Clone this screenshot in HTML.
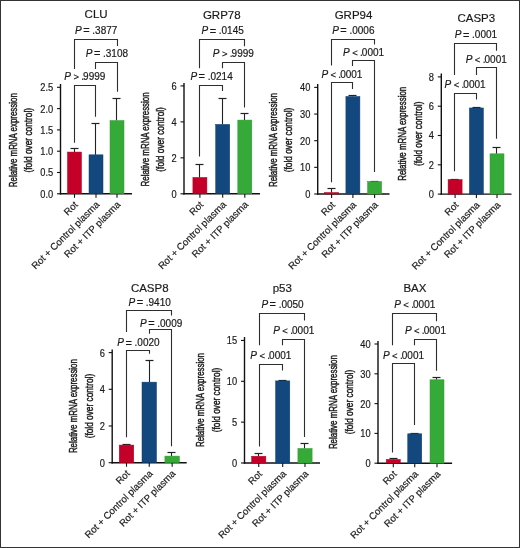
<!DOCTYPE html>
<html><head><meta charset="utf-8"><style>
html,body{margin:0;padding:0;background:#fff;}
body{width:520px;height:548px;overflow:hidden;}
svg{display:block;will-change:transform;}
text{font-family:"Liberation Sans", sans-serif;fill:#1a1a1a;stroke:#1a1a1a;stroke-width:0.18px;}
.yl{stroke:#1a1a1a;stroke-width:0.45px;}
</style></head><body>
<svg width="520" height="548" viewBox="0 0 520 548">
<rect x="0.5" y="0.5" width="519" height="547" fill="#fff" stroke="#333" stroke-width="1"/>
<text x="0" y="0" font-size="11.5" text-anchor="middle" transform="translate(96.1 18.1)">CLU</text>
<line x1="60.5" y1="84" x2="60.5" y2="194.5" stroke="#111" stroke-width="1.4"/>
<line x1="57.0" y1="193.8" x2="60.5" y2="193.8" stroke="#111" stroke-width="1.1"/>
<text x="0" y="0" font-size="10" text-anchor="end" transform="translate(53.20 197.70) scale(0.93 1)">0.0</text>
<line x1="57.0" y1="172.5" x2="60.5" y2="172.5" stroke="#111" stroke-width="1.1"/>
<text x="0" y="0" font-size="10" text-anchor="end" transform="translate(53.20 176.40) scale(0.93 1)">0.5</text>
<line x1="57.0" y1="151.2" x2="60.5" y2="151.2" stroke="#111" stroke-width="1.1"/>
<text x="0" y="0" font-size="10" text-anchor="end" transform="translate(53.20 155.10) scale(0.93 1)">1.0</text>
<line x1="57.0" y1="129.9" x2="60.5" y2="129.9" stroke="#111" stroke-width="1.1"/>
<text x="0" y="0" font-size="10" text-anchor="end" transform="translate(53.20 133.80) scale(0.93 1)">1.5</text>
<line x1="57.0" y1="108.6" x2="60.5" y2="108.6" stroke="#111" stroke-width="1.1"/>
<text x="0" y="0" font-size="10" text-anchor="end" transform="translate(53.20 112.50) scale(0.93 1)">2.0</text>
<line x1="57.0" y1="87.3" x2="60.5" y2="87.3" stroke="#111" stroke-width="1.1"/>
<text x="0" y="0" font-size="10" text-anchor="end" transform="translate(53.20 91.20) scale(0.93 1)">2.5</text>
<line x1="59.8" y1="193.8" x2="132" y2="193.8" stroke="#111" stroke-width="1.4"/>
<line x1="74.5" y1="193.8" x2="74.5" y2="197.8" stroke="#111" stroke-width="1.1"/>
<line x1="96" y1="193.8" x2="96" y2="197.8" stroke="#111" stroke-width="1.1"/>
<line x1="117" y1="193.8" x2="117" y2="197.8" stroke="#111" stroke-width="1.1"/>
<line x1="74.5" y1="149.07" x2="74.5" y2="152.05200000000002" stroke="#222" stroke-width="1.1"/>
<line x1="70.5" y1="148.5" x2="78.5" y2="148.5" stroke="#222" stroke-width="1.2"/>
<rect x="67.5" y="152.05" width="14" height="41.75" fill="#c50028" stroke="#b00022" stroke-width="0.5"/>
<line x1="95.5" y1="123.51000000000002" x2="95.5" y2="154.821" stroke="#222" stroke-width="1.1"/>
<line x1="91.5" y1="123.5" x2="99.5" y2="123.5" stroke="#222" stroke-width="1.2"/>
<rect x="89.0" y="154.82" width="14" height="38.98" fill="#13487f" stroke="#0f3d6c" stroke-width="0.5"/>
<line x1="116.5" y1="98.376" x2="116.5" y2="120.528" stroke="#222" stroke-width="1.1"/>
<line x1="112.5" y1="98.5" x2="120.5" y2="98.5" stroke="#222" stroke-width="1.2"/>
<rect x="110.0" y="120.53" width="14" height="73.27" fill="#36aa38" stroke="#2f9a32" stroke-width="0.5"/>
<polyline points="74.5,69 74.5,39.5 117.5,39.5 117.5,45.9" fill="none" stroke="#2e2e2e" stroke-width="1.1"/>
<text y="33.9" font-size="10"><tspan x="75.09" font-style="italic">P</tspan><tspan x="83.26" y="34.4" font-size="11">=</tspan><tspan x="92.34" y="33.9">.</tspan><tspan x="95.12">3877</tspan></text>
<polyline points="95.5,69 95.5,62.5 117.5,62.5 117.5,91.7" fill="none" stroke="#2e2e2e" stroke-width="1.1"/>
<text y="56.7" font-size="10"><tspan x="85.74" font-style="italic">P</tspan><tspan x="93.91" y="57.2" font-size="11">=</tspan><tspan x="102.99" y="56.7">.</tspan><tspan x="105.77">3108</tspan></text>
<polyline points="74.5,142.8 74.5,85.5 95.5,85.5 95.5,116.8" fill="none" stroke="#2e2e2e" stroke-width="1.1"/>
<text y="80.0" font-size="10"><tspan x="64.34" font-style="italic">P</tspan><tspan x="73.38" y="80.0" font-size="9.5">&gt;</tspan><tspan x="81.24" y="80.0">.</tspan><tspan x="83.12">9999</tspan></text>
<text x="78.5" y="205.3" font-size="9.7" text-anchor="end" transform="rotate(-45 78.5 205.3)">Rot</text>
<text x="100.0" y="205.3" font-size="9.7" text-anchor="end" transform="rotate(-45 100.0 205.3)">Rot + Control plasma</text>
<text x="121.0" y="205.3" font-size="9.7" text-anchor="end" transform="rotate(-45 121.0 205.3)">Rot + ITP plasma</text>
<text x="17.1" y="140.20000000000002" font-size="10.8" text-anchor="middle" class="yl" transform="rotate(-90 17.1 140.20000000000002)" textLength="94" lengthAdjust="spacingAndGlyphs" dy="0">Relative mRNA expression</text>
<text x="31.9" y="140.20000000000002" font-size="10.8" text-anchor="middle" class="yl" transform="rotate(-90 31.9 140.20000000000002)" textLength="64.5" lengthAdjust="spacingAndGlyphs">(fold over control)</text>
<text x="0" y="0" font-size="11.5" text-anchor="middle" transform="translate(221.75 18.5)">GRP78</text>
<line x1="184" y1="83" x2="184" y2="194.5" stroke="#111" stroke-width="1.4"/>
<line x1="180.5" y1="193.8" x2="184" y2="193.8" stroke="#111" stroke-width="1.1"/>
<text x="0" y="0" font-size="10" text-anchor="end" transform="translate(176.70 197.70) scale(0.93 1)">0</text>
<line x1="180.5" y1="157.84" x2="184" y2="157.84" stroke="#111" stroke-width="1.1"/>
<text x="0" y="0" font-size="10" text-anchor="end" transform="translate(176.70 161.74) scale(0.93 1)">2</text>
<line x1="180.5" y1="121.88" x2="184" y2="121.88" stroke="#111" stroke-width="1.1"/>
<text x="0" y="0" font-size="10" text-anchor="end" transform="translate(176.70 125.78) scale(0.93 1)">4</text>
<line x1="180.5" y1="85.92" x2="184" y2="85.92" stroke="#111" stroke-width="1.1"/>
<text x="0" y="0" font-size="10" text-anchor="end" transform="translate(176.70 89.82) scale(0.93 1)">6</text>
<line x1="183.3" y1="193.8" x2="260" y2="193.8" stroke="#111" stroke-width="1.4"/>
<line x1="199.9" y1="193.8" x2="199.9" y2="197.8" stroke="#111" stroke-width="1.1"/>
<line x1="222.7" y1="193.8" x2="222.7" y2="197.8" stroke="#111" stroke-width="1.1"/>
<line x1="244.8" y1="193.8" x2="244.8" y2="197.8" stroke="#111" stroke-width="1.1"/>
<line x1="199.5" y1="164.3128" x2="199.5" y2="177.4382" stroke="#222" stroke-width="1.1"/>
<line x1="195.5" y1="164.5" x2="203.5" y2="164.5" stroke="#222" stroke-width="1.2"/>
<rect x="192.9" y="177.44" width="14" height="16.36" fill="#c50028" stroke="#b00022" stroke-width="0.5"/>
<line x1="222.5" y1="98.50600000000001" x2="222.5" y2="124.39720000000001" stroke="#222" stroke-width="1.1"/>
<line x1="218.5" y1="98.5" x2="226.5" y2="98.5" stroke="#222" stroke-width="1.2"/>
<rect x="215.7" y="124.40" width="14" height="69.40" fill="#13487f" stroke="#0f3d6c" stroke-width="0.5"/>
<line x1="244.5" y1="113.9688" x2="244.5" y2="120.08200000000002" stroke="#222" stroke-width="1.1"/>
<line x1="240.5" y1="113.5" x2="248.5" y2="113.5" stroke="#222" stroke-width="1.2"/>
<rect x="237.8" y="120.08" width="14" height="73.72" fill="#36aa38" stroke="#2f9a32" stroke-width="0.5"/>
<polyline points="199.5,68.3 199.5,39.5 244.5,39.5 244.5,46.2" fill="none" stroke="#2e2e2e" stroke-width="1.1"/>
<text y="34.2" font-size="10"><tspan x="201.49" font-style="italic">P</tspan><tspan x="209.66" y="34.7" font-size="11">=</tspan><tspan x="218.74" y="34.2">.</tspan><tspan x="221.52">0145</tspan></text>
<polyline points="222.5,68.3 222.5,62.5 244.5,62.5 244.5,107.4" fill="none" stroke="#2e2e2e" stroke-width="1.1"/>
<text y="57.2" font-size="10"><tspan x="212.84" font-style="italic">P</tspan><tspan x="221.88" y="57.2" font-size="9.5">&gt;</tspan><tspan x="229.74" y="57.2">.</tspan><tspan x="231.62">9999</tspan></text>
<polyline points="199.5,156.6 199.5,85.5 222.5,85.5 222.5,91" fill="none" stroke="#2e2e2e" stroke-width="1.1"/>
<text y="79.9" font-size="10"><tspan x="190.44" font-style="italic">P</tspan><tspan x="198.61" y="80.4" font-size="11">=</tspan><tspan x="207.69" y="79.9">.</tspan><tspan x="210.47">0214</tspan></text>
<text x="203.9" y="205.3" font-size="9.7" text-anchor="end" transform="rotate(-45 203.9 205.3)">Rot</text>
<text x="226.7" y="205.3" font-size="9.7" text-anchor="end" transform="rotate(-45 226.7 205.3)">Rot + Control plasma</text>
<text x="248.8" y="205.3" font-size="9.7" text-anchor="end" transform="rotate(-45 248.8 205.3)">Rot + ITP plasma</text>
<text x="149.10000000000002" y="139.4" font-size="10.8" text-anchor="middle" class="yl" transform="rotate(-90 149.10000000000002 139.4)" textLength="94" lengthAdjust="spacingAndGlyphs" dy="0">Relative mRNA expression</text>
<text x="164.5" y="139.4" font-size="10.8" text-anchor="middle" class="yl" transform="rotate(-90 164.5 139.4)" textLength="64.5" lengthAdjust="spacingAndGlyphs">(fold over control)</text>
<text x="0" y="0" font-size="11.5" text-anchor="middle" transform="translate(353.5 18.5)">GRP94</text>
<line x1="317.7" y1="84" x2="317.7" y2="194.7" stroke="#111" stroke-width="1.4"/>
<line x1="314.2" y1="194.0" x2="317.7" y2="194.0" stroke="#111" stroke-width="1.1"/>
<text x="0" y="0" font-size="10" text-anchor="end" transform="translate(310.40 197.90) scale(0.93 1)">0</text>
<line x1="314.2" y1="167.35" x2="317.7" y2="167.35" stroke="#111" stroke-width="1.1"/>
<text x="0" y="0" font-size="10" text-anchor="end" transform="translate(310.40 171.25) scale(0.93 1)">10</text>
<line x1="314.2" y1="140.7" x2="317.7" y2="140.7" stroke="#111" stroke-width="1.1"/>
<text x="0" y="0" font-size="10" text-anchor="end" transform="translate(310.40 144.60) scale(0.93 1)">20</text>
<line x1="314.2" y1="114.05" x2="317.7" y2="114.05" stroke="#111" stroke-width="1.1"/>
<text x="0" y="0" font-size="10" text-anchor="end" transform="translate(310.40 117.95) scale(0.93 1)">30</text>
<line x1="314.2" y1="87.4" x2="317.7" y2="87.4" stroke="#111" stroke-width="1.1"/>
<text x="0" y="0" font-size="10" text-anchor="end" transform="translate(310.40 91.30) scale(0.93 1)">40</text>
<line x1="317.0" y1="194.0" x2="389.5" y2="194.0" stroke="#111" stroke-width="1.4"/>
<line x1="331.6" y1="194.0" x2="331.6" y2="198.0" stroke="#111" stroke-width="1.1"/>
<line x1="352.9" y1="194.0" x2="352.9" y2="198.0" stroke="#111" stroke-width="1.1"/>
<line x1="374.6" y1="194.0" x2="374.6" y2="198.0" stroke="#111" stroke-width="1.1"/>
<line x1="331.5" y1="188.67" x2="331.5" y2="192.53425" stroke="#222" stroke-width="1.1"/>
<line x1="327.5" y1="188.5" x2="335.5" y2="188.5" stroke="#222" stroke-width="1.2"/>
<rect x="324.6" y="192.53" width="14" height="1.47" fill="#c50028" stroke="#b00022" stroke-width="0.5"/>
<line x1="352.5" y1="96.19449999999999" x2="352.5" y2="96.461" stroke="#222" stroke-width="1.1"/>
<line x1="348.5" y1="95.5" x2="356.5" y2="95.5" stroke="#222" stroke-width="1.2"/>
<rect x="345.9" y="96.46" width="14" height="97.54" fill="#13487f" stroke="#0f3d6c" stroke-width="0.5"/>
<line x1="374.5" y1="181.208" x2="374.5" y2="181.4745" stroke="#222" stroke-width="1.1"/>
<line x1="370.5" y1="181.5" x2="378.5" y2="181.5" stroke="#222" stroke-width="1.2"/>
<rect x="367.6" y="181.47" width="14" height="12.53" fill="#36aa38" stroke="#2f9a32" stroke-width="0.5"/>
<polyline points="331.5,65.6 331.5,39.5 374.5,39.5 374.5,44.4" fill="none" stroke="#2e2e2e" stroke-width="1.1"/>
<text y="33.9" font-size="10"><tspan x="332.19" font-style="italic">P</tspan><tspan x="340.36" y="34.4" font-size="11">=</tspan><tspan x="349.44" y="33.9">.</tspan><tspan x="352.22">0006</tspan></text>
<polyline points="352.5,66 352.5,60.5 374.5,60.5 374.5,171.9" fill="none" stroke="#2e2e2e" stroke-width="1.1"/>
<text y="55.9" font-size="10"><tspan x="343.09" font-style="italic">P</tspan><tspan x="352.13" y="55.9" font-size="9.5">&lt;</tspan><tspan x="359.99" y="55.9">.</tspan><tspan x="361.87">0001</tspan></text>
<polyline points="331.5,182.3 331.5,82.5 352.5,82.5 352.5,88.9" fill="none" stroke="#2e2e2e" stroke-width="1.1"/>
<text y="77.7" font-size="10"><tspan x="321.39" font-style="italic">P</tspan><tspan x="330.43" y="77.7" font-size="9.5">&lt;</tspan><tspan x="338.29" y="77.7">.</tspan><tspan x="340.17">0001</tspan></text>
<text x="335.6" y="205.5" font-size="9.7" text-anchor="end" transform="rotate(-45 335.6 205.5)">Rot</text>
<text x="356.9" y="205.5" font-size="9.7" text-anchor="end" transform="rotate(-45 356.9 205.5)">Rot + Control plasma</text>
<text x="378.6" y="205.5" font-size="9.7" text-anchor="end" transform="rotate(-45 378.6 205.5)">Rot + ITP plasma</text>
<text x="276.7" y="140.0" font-size="10.8" text-anchor="middle" class="yl" transform="rotate(-90 276.7 140.0)" textLength="94" lengthAdjust="spacingAndGlyphs" dy="0">Relative mRNA expression</text>
<text x="291.9" y="140.0" font-size="10.8" text-anchor="middle" class="yl" transform="rotate(-90 291.9 140.0)" textLength="64.5" lengthAdjust="spacingAndGlyphs">(fold over control)</text>
<text x="0" y="0" font-size="11.5" text-anchor="middle" transform="translate(476.3 22.1)">CASP3</text>
<line x1="441.3" y1="73.5" x2="441.3" y2="194.79999999999998" stroke="#111" stroke-width="1.4"/>
<line x1="437.8" y1="194.1" x2="441.3" y2="194.1" stroke="#111" stroke-width="1.1"/>
<text x="0" y="0" font-size="10" text-anchor="end" transform="translate(434.00 198.00) scale(0.93 1)">0</text>
<line x1="437.8" y1="164.8" x2="441.3" y2="164.8" stroke="#111" stroke-width="1.1"/>
<text x="0" y="0" font-size="10" text-anchor="end" transform="translate(434.00 168.70) scale(0.93 1)">2</text>
<line x1="437.8" y1="135.5" x2="441.3" y2="135.5" stroke="#111" stroke-width="1.1"/>
<text x="0" y="0" font-size="10" text-anchor="end" transform="translate(434.00 139.40) scale(0.93 1)">4</text>
<line x1="437.8" y1="106.2" x2="441.3" y2="106.2" stroke="#111" stroke-width="1.1"/>
<text x="0" y="0" font-size="10" text-anchor="end" transform="translate(434.00 110.10) scale(0.93 1)">6</text>
<line x1="437.8" y1="76.9" x2="441.3" y2="76.9" stroke="#111" stroke-width="1.1"/>
<text x="0" y="0" font-size="10" text-anchor="end" transform="translate(434.00 80.80) scale(0.93 1)">8</text>
<line x1="440.6" y1="194.1" x2="511.5" y2="194.1" stroke="#111" stroke-width="1.4"/>
<line x1="455.1" y1="194.1" x2="455.1" y2="198.1" stroke="#111" stroke-width="1.1"/>
<line x1="476.4" y1="194.1" x2="476.4" y2="198.1" stroke="#111" stroke-width="1.1"/>
<line x1="497" y1="194.1" x2="497" y2="198.1" stroke="#111" stroke-width="1.1"/>
<line x1="454.5" y1="179.45" x2="454.5" y2="179.5965" stroke="#222" stroke-width="1.1"/>
<line x1="450.5" y1="179.5" x2="458.5" y2="179.5" stroke="#222" stroke-width="1.2"/>
<rect x="448.1" y="179.60" width="14" height="14.50" fill="#c50028" stroke="#b00022" stroke-width="0.5"/>
<line x1="476.5" y1="107.66499999999999" x2="476.5" y2="107.958" stroke="#222" stroke-width="1.1"/>
<line x1="472.5" y1="107.5" x2="480.5" y2="107.5" stroke="#222" stroke-width="1.2"/>
<rect x="469.4" y="107.96" width="14" height="86.14" fill="#13487f" stroke="#0f3d6c" stroke-width="0.5"/>
<line x1="496.5" y1="147.3665" x2="496.5" y2="153.8125" stroke="#222" stroke-width="1.1"/>
<line x1="492.5" y1="147.5" x2="500.5" y2="147.5" stroke="#222" stroke-width="1.2"/>
<rect x="490.0" y="153.81" width="14" height="40.29" fill="#36aa38" stroke="#2f9a32" stroke-width="0.5"/>
<polyline points="454.5,75.1 454.5,43.5 496.5,43.5 496.5,50.8" fill="none" stroke="#2e2e2e" stroke-width="1.1"/>
<text y="38.2" font-size="10"><tspan x="454.84" font-style="italic">P</tspan><tspan x="463.01" y="38.7" font-size="11">=</tspan><tspan x="472.09" y="38.2">.</tspan><tspan x="474.87">0001</tspan></text>
<polyline points="476.5,75.1 476.5,67.5 496.5,67.5 496.5,138.8" fill="none" stroke="#2e2e2e" stroke-width="1.1"/>
<text y="62.9" font-size="10"><tspan x="465.74" font-style="italic">P</tspan><tspan x="474.78" y="62.9" font-size="9.5">&lt;</tspan><tspan x="482.64" y="62.9">.</tspan><tspan x="484.52">0001</tspan></text>
<polyline points="454.5,171.3 454.5,93.5 476.5,93.5 476.5,99.4" fill="none" stroke="#2e2e2e" stroke-width="1.1"/>
<text y="88.3" font-size="10"><tspan x="444.59" font-style="italic">P</tspan><tspan x="453.63" y="88.3" font-size="9.5">&lt;</tspan><tspan x="461.49" y="88.3">.</tspan><tspan x="463.37">0001</tspan></text>
<text x="459.1" y="205.6" font-size="9.7" text-anchor="end" transform="rotate(-45 459.1 205.6)">Rot</text>
<text x="480.4" y="205.6" font-size="9.7" text-anchor="end" transform="rotate(-45 480.4 205.6)">Rot + Control plasma</text>
<text x="501.0" y="205.6" font-size="9.7" text-anchor="end" transform="rotate(-45 501.0 205.6)">Rot + ITP plasma</text>
<text x="406.3" y="133.8" font-size="10.8" text-anchor="middle" class="yl" transform="rotate(-90 406.3 133.8)" textLength="94" lengthAdjust="spacingAndGlyphs" dy="0">Relative mRNA expression</text>
<text x="421.6" y="133.8" font-size="10.8" text-anchor="middle" class="yl" transform="rotate(-90 421.6 133.8)" textLength="64.5" lengthAdjust="spacingAndGlyphs">(fold over control)</text>
<text x="0" y="0" font-size="11.5" text-anchor="middle" transform="translate(149.75 292.2)">CASP8</text>
<line x1="112.2" y1="349.5" x2="112.2" y2="463.4" stroke="#111" stroke-width="1.4"/>
<line x1="108.7" y1="462.7" x2="112.2" y2="462.7" stroke="#111" stroke-width="1.1"/>
<text x="0" y="0" font-size="10" text-anchor="end" transform="translate(104.90 466.60) scale(0.93 1)">0</text>
<line x1="108.7" y1="426.0" x2="112.2" y2="426.0" stroke="#111" stroke-width="1.1"/>
<text x="0" y="0" font-size="10" text-anchor="end" transform="translate(104.90 429.90) scale(0.93 1)">2</text>
<line x1="108.7" y1="389.3" x2="112.2" y2="389.3" stroke="#111" stroke-width="1.1"/>
<text x="0" y="0" font-size="10" text-anchor="end" transform="translate(104.90 393.20) scale(0.93 1)">4</text>
<line x1="108.7" y1="352.6" x2="112.2" y2="352.6" stroke="#111" stroke-width="1.1"/>
<text x="0" y="0" font-size="10" text-anchor="end" transform="translate(104.90 356.50) scale(0.93 1)">6</text>
<line x1="111.5" y1="462.7" x2="186.7" y2="462.7" stroke="#111" stroke-width="1.4"/>
<line x1="126.5" y1="462.7" x2="126.5" y2="466.7" stroke="#111" stroke-width="1.1"/>
<line x1="149.25" y1="462.7" x2="149.25" y2="466.7" stroke="#111" stroke-width="1.1"/>
<line x1="172.15" y1="462.7" x2="172.15" y2="466.7" stroke="#111" stroke-width="1.1"/>
<line x1="126.5" y1="444.717" x2="126.5" y2="445.084" stroke="#222" stroke-width="1.1"/>
<line x1="122.5" y1="444.5" x2="130.5" y2="444.5" stroke="#222" stroke-width="1.2"/>
<rect x="119.25" y="445.08" width="14.5" height="17.62" fill="#c50028" stroke="#b00022" stroke-width="0.5"/>
<line x1="149.5" y1="360.674" x2="149.5" y2="382.1435" stroke="#222" stroke-width="1.1"/>
<line x1="145.5" y1="360.5" x2="153.5" y2="360.5" stroke="#222" stroke-width="1.2"/>
<rect x="142.0" y="382.14" width="14.5" height="80.56" fill="#13487f" stroke="#0f3d6c" stroke-width="0.5"/>
<line x1="171.5" y1="452.60749999999996" x2="171.5" y2="456.094" stroke="#222" stroke-width="1.1"/>
<line x1="167.5" y1="452.5" x2="175.5" y2="452.5" stroke="#222" stroke-width="1.2"/>
<rect x="164.9" y="456.09" width="14.5" height="6.61" fill="#36aa38" stroke="#2f9a32" stroke-width="0.5"/>
<polyline points="126.5,332.1 126.5,310.5 171.5,310.5 171.5,315.4" fill="none" stroke="#2e2e2e" stroke-width="1.1"/>
<text y="305.9" font-size="10"><tspan x="128.49" font-style="italic">P</tspan><tspan x="136.66" y="306.4" font-size="11">=</tspan><tspan x="145.74" y="305.9">.</tspan><tspan x="148.52">9410</tspan></text>
<polyline points="149.5,333.7 149.5,329.5 171.5,329.5 171.5,446.2" fill="none" stroke="#2e2e2e" stroke-width="1.1"/>
<text y="326.5" font-size="10"><tspan x="140.04" font-style="italic">P</tspan><tspan x="148.21" y="327.0" font-size="11">=</tspan><tspan x="157.29" y="326.5">.</tspan><tspan x="160.07">0009</tspan></text>
<polyline points="126.5,437.2 126.5,350.5 149.5,350.5 149.5,353.8" fill="none" stroke="#2e2e2e" stroke-width="1.1"/>
<text y="346.3" font-size="10"><tspan x="117.34" font-style="italic">P</tspan><tspan x="125.51" y="346.8" font-size="11">=</tspan><tspan x="134.59" y="346.3">.</tspan><tspan x="137.37">0020</tspan></text>
<text x="130.5" y="474.2" font-size="9.7" text-anchor="end" transform="rotate(-45 130.5 474.2)">Rot</text>
<text x="153.25" y="474.2" font-size="9.7" text-anchor="end" transform="rotate(-45 153.25 474.2)">Rot + Control plasma</text>
<text x="176.15" y="474.2" font-size="9.7" text-anchor="end" transform="rotate(-45 176.15 474.2)">Rot + ITP plasma</text>
<text x="77.39999999999999" y="406.1" font-size="10.8" text-anchor="middle" class="yl" transform="rotate(-90 77.39999999999999 406.1)" textLength="94" lengthAdjust="spacingAndGlyphs" dy="0">Relative mRNA expression</text>
<text x="92.8" y="406.1" font-size="10.8" text-anchor="middle" class="yl" transform="rotate(-90 92.8 406.1)" textLength="64.5" lengthAdjust="spacingAndGlyphs">(fold over control)</text>
<text x="0" y="0" font-size="11.5" text-anchor="middle" transform="translate(282.3 291.7)">p53</text>
<line x1="244.5" y1="337" x2="244.5" y2="463.7" stroke="#111" stroke-width="1.4"/>
<line x1="241.0" y1="463.0" x2="244.5" y2="463.0" stroke="#111" stroke-width="1.1"/>
<text x="0" y="0" font-size="10" text-anchor="end" transform="translate(237.20 466.90) scale(0.93 1)">0</text>
<line x1="241.0" y1="422.15" x2="244.5" y2="422.15" stroke="#111" stroke-width="1.1"/>
<text x="0" y="0" font-size="10" text-anchor="end" transform="translate(237.20 426.05) scale(0.93 1)">5</text>
<line x1="241.0" y1="381.3" x2="244.5" y2="381.3" stroke="#111" stroke-width="1.1"/>
<text x="0" y="0" font-size="10" text-anchor="end" transform="translate(237.20 385.20) scale(0.93 1)">10</text>
<line x1="241.0" y1="340.45" x2="244.5" y2="340.45" stroke="#111" stroke-width="1.1"/>
<text x="0" y="0" font-size="10" text-anchor="end" transform="translate(237.20 344.35) scale(0.93 1)">15</text>
<line x1="243.8" y1="463" x2="320" y2="463" stroke="#111" stroke-width="1.4"/>
<line x1="258.75" y1="463" x2="258.75" y2="467" stroke="#111" stroke-width="1.1"/>
<line x1="282.7" y1="463" x2="282.7" y2="467" stroke="#111" stroke-width="1.1"/>
<line x1="305" y1="463" x2="305" y2="467" stroke="#111" stroke-width="1.1"/>
<line x1="258.5" y1="453.5228" x2="258.5" y2="456.2189" stroke="#222" stroke-width="1.1"/>
<line x1="254.5" y1="453.5" x2="262.5" y2="453.5" stroke="#222" stroke-width="1.2"/>
<rect x="251.65" y="456.22" width="14.2" height="6.78" fill="#c50028" stroke="#b00022" stroke-width="0.5"/>
<line x1="282.5" y1="380.483" x2="282.5" y2="380.8915" stroke="#222" stroke-width="1.1"/>
<line x1="278.5" y1="380.5" x2="286.5" y2="380.5" stroke="#222" stroke-width="1.2"/>
<rect x="275.59999999999997" y="380.89" width="14.2" height="82.11" fill="#13487f" stroke="#0f3d6c" stroke-width="0.5"/>
<line x1="304.5" y1="443.8822" x2="304.5" y2="448.4574" stroke="#222" stroke-width="1.1"/>
<line x1="300.5" y1="443.5" x2="308.5" y2="443.5" stroke="#222" stroke-width="1.2"/>
<rect x="297.9" y="448.46" width="14.2" height="14.54" fill="#36aa38" stroke="#2f9a32" stroke-width="0.5"/>
<polyline points="259.5,345.2 259.5,313.5 304.5,313.5 304.5,320.6" fill="none" stroke="#2e2e2e" stroke-width="1.1"/>
<text y="307.6" font-size="10"><tspan x="261.39" font-style="italic">P</tspan><tspan x="269.56" y="308.1" font-size="11">=</tspan><tspan x="278.64" y="307.6">.</tspan><tspan x="281.42">0050</tspan></text>
<polyline points="282.5,345.2 282.5,339.5 304.5,339.5 304.5,437" fill="none" stroke="#2e2e2e" stroke-width="1.1"/>
<text y="334.2" font-size="10"><tspan x="273.24" font-style="italic">P</tspan><tspan x="282.28" y="334.2" font-size="9.5">&lt;</tspan><tspan x="290.14" y="334.2">.</tspan><tspan x="292.02">0001</tspan></text>
<polyline points="259.5,446.4 259.5,364.5 282.5,364.5 282.5,370.6" fill="none" stroke="#2e2e2e" stroke-width="1.1"/>
<text y="359.2" font-size="10"><tspan x="250.34" font-style="italic">P</tspan><tspan x="259.38" y="359.2" font-size="9.5">&lt;</tspan><tspan x="267.24" y="359.2">.</tspan><tspan x="269.12">0001</tspan></text>
<text x="262.75" y="474.5" font-size="9.7" text-anchor="end" transform="rotate(-45 262.75 474.5)">Rot</text>
<text x="286.7" y="474.5" font-size="9.7" text-anchor="end" transform="rotate(-45 286.7 474.5)">Rot + Control plasma</text>
<text x="309.0" y="474.5" font-size="9.7" text-anchor="end" transform="rotate(-45 309.0 474.5)">Rot + ITP plasma</text>
<text x="204.3" y="400.0" font-size="10.8" text-anchor="middle" class="yl" transform="rotate(-90 204.3 400.0)" textLength="94" lengthAdjust="spacingAndGlyphs" dy="0">Relative mRNA expression</text>
<text x="219.6" y="400.0" font-size="10.8" text-anchor="middle" class="yl" transform="rotate(-90 219.6 400.0)" textLength="64.5" lengthAdjust="spacingAndGlyphs">(fold over control)</text>
<text x="0" y="0" font-size="11.5" text-anchor="middle" transform="translate(414.9 291.8)">BAX</text>
<line x1="378" y1="341" x2="378" y2="463.9" stroke="#111" stroke-width="1.4"/>
<line x1="374.5" y1="463.2" x2="378" y2="463.2" stroke="#111" stroke-width="1.1"/>
<text x="0" y="0" font-size="10" text-anchor="end" transform="translate(370.70 467.10) scale(0.93 1)">0</text>
<line x1="374.5" y1="433.4" x2="378" y2="433.4" stroke="#111" stroke-width="1.1"/>
<text x="0" y="0" font-size="10" text-anchor="end" transform="translate(370.70 437.30) scale(0.93 1)">10</text>
<line x1="374.5" y1="403.6" x2="378" y2="403.6" stroke="#111" stroke-width="1.1"/>
<text x="0" y="0" font-size="10" text-anchor="end" transform="translate(370.70 407.50) scale(0.93 1)">20</text>
<line x1="374.5" y1="373.8" x2="378" y2="373.8" stroke="#111" stroke-width="1.1"/>
<text x="0" y="0" font-size="10" text-anchor="end" transform="translate(370.70 377.70) scale(0.93 1)">30</text>
<line x1="374.5" y1="344.0" x2="378" y2="344.0" stroke="#111" stroke-width="1.1"/>
<text x="0" y="0" font-size="10" text-anchor="end" transform="translate(370.70 347.90) scale(0.93 1)">40</text>
<line x1="377.3" y1="463.2" x2="452.1" y2="463.2" stroke="#111" stroke-width="1.4"/>
<line x1="393.3" y1="463.2" x2="393.3" y2="467.2" stroke="#111" stroke-width="1.1"/>
<line x1="414.75" y1="463.2" x2="414.75" y2="467.2" stroke="#111" stroke-width="1.1"/>
<line x1="437" y1="463.2" x2="437" y2="467.2" stroke="#111" stroke-width="1.1"/>
<line x1="393.5" y1="459.02799999999996" x2="393.5" y2="459.3856" stroke="#222" stroke-width="1.1"/>
<line x1="389.5" y1="458.5" x2="397.5" y2="458.5" stroke="#222" stroke-width="1.2"/>
<rect x="386.3" y="459.39" width="14" height="3.81" fill="#c50028" stroke="#b00022" stroke-width="0.5"/>
<line x1="414.5" y1="433.4" x2="414.5" y2="433.7874" stroke="#222" stroke-width="1.1"/>
<line x1="410.5" y1="433.5" x2="418.5" y2="433.5" stroke="#222" stroke-width="1.2"/>
<rect x="407.75" y="433.79" width="14" height="29.41" fill="#13487f" stroke="#0f3d6c" stroke-width="0.5"/>
<line x1="436.5" y1="377.376" x2="436.5" y2="379.76" stroke="#222" stroke-width="1.1"/>
<line x1="432.5" y1="377.5" x2="440.5" y2="377.5" stroke="#222" stroke-width="1.2"/>
<rect x="430.0" y="379.76" width="14" height="83.44" fill="#36aa38" stroke="#2f9a32" stroke-width="0.5"/>
<polyline points="392.5,345.2 392.5,313.5 436.5,313.5 436.5,321.2" fill="none" stroke="#2e2e2e" stroke-width="1.1"/>
<text y="307.8" font-size="10"><tspan x="394.29" font-style="italic">P</tspan><tspan x="403.33" y="307.8" font-size="9.5">&lt;</tspan><tspan x="411.19" y="307.8">.</tspan><tspan x="413.07">0001</tspan></text>
<polyline points="414.5,345.2 414.5,339.5 436.5,339.5 436.5,370.8" fill="none" stroke="#2e2e2e" stroke-width="1.1"/>
<text y="333.8" font-size="10"><tspan x="404.94" font-style="italic">P</tspan><tspan x="413.98" y="333.8" font-size="9.5">&lt;</tspan><tspan x="421.84" y="333.8">.</tspan><tspan x="423.72">0001</tspan></text>
<polyline points="392.5,452.5 392.5,363.5 414.5,363.5 414.5,425" fill="none" stroke="#2e2e2e" stroke-width="1.1"/>
<text y="358.6" font-size="10"><tspan x="383.04" font-style="italic">P</tspan><tspan x="392.08" y="358.6" font-size="9.5">&lt;</tspan><tspan x="399.94" y="358.6">.</tspan><tspan x="401.82">0001</tspan></text>
<text x="397.3" y="474.7" font-size="9.7" text-anchor="end" transform="rotate(-45 397.3 474.7)">Rot</text>
<text x="418.75" y="474.7" font-size="9.7" text-anchor="end" transform="rotate(-45 418.75 474.7)">Rot + Control plasma</text>
<text x="441.0" y="474.7" font-size="9.7" text-anchor="end" transform="rotate(-45 441.0 474.7)">Rot + ITP plasma</text>
<text x="336.8" y="402.1" font-size="10.8" text-anchor="middle" class="yl" transform="rotate(-90 336.8 402.1)" textLength="94" lengthAdjust="spacingAndGlyphs" dy="0">Relative mRNA expression</text>
<text x="353.0" y="402.1" font-size="10.8" text-anchor="middle" class="yl" transform="rotate(-90 353.0 402.1)" textLength="64.5" lengthAdjust="spacingAndGlyphs">(fold over control)</text>
</svg>
</body></html>
